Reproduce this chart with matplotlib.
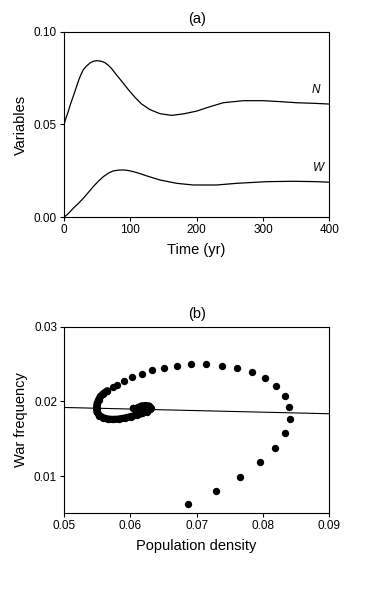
import matplotlib
matplotlib.use("Agg")
import matplotlib.pyplot as plt

plt.rcParams['font.family'] = ['Liberation Sans', 'DejaVu Sans']

# (a) time series
time_n = [0, 3, 6.5, 10, 14, 18, 21.6, 25, 29.1, 34, 39.2, 44, 49.2, 56.8, 62, 66.8, 72,
          76.9, 86.9, 96.9, 107, 117, 129.6, 144.7, 162.3, 179.9, 200, 215, 240, 270,
          300.5, 325.7, 350.8, 376, 400]
pop_n = [0.0500, 0.0535, 0.0571, 0.0612, 0.0652, 0.0695, 0.0733, 0.0765, 0.0795, 0.0815,
         0.0831, 0.0840, 0.0844, 0.0840, 0.0832, 0.0819, 0.0800, 0.0777, 0.0733, 0.0688,
         0.0646, 0.0610, 0.0580, 0.0558, 0.0549, 0.0557, 0.0572, 0.0590, 0.0617, 0.0628,
         0.0628, 0.0623, 0.0617, 0.0614, 0.0610]

time_w = [0, 7, 14, 22, 29, 37, 44, 52, 59.3, 67, 74.4, 82, 89.5, 97, 104.5, 115, 124.6,
          144.7, 169.8, 194.9, 230, 260.3, 305.6, 345.7, 380.9, 400]
war_w = [0.0, 0.0022, 0.0049, 0.0076, 0.0102, 0.0135, 0.0165, 0.0195, 0.0219, 0.0238,
         0.0250, 0.0254, 0.0255, 0.0252, 0.0246, 0.0235, 0.0223, 0.0201, 0.0183, 0.0174,
         0.0174, 0.0183, 0.0192, 0.0194, 0.0192, 0.0189]

# (b) phase plane dots
dots_x = [0.06874, 0.07291, 0.07653, 0.07960, 0.08181, 0.08332, 0.08402, 0.08397, 0.08332,
          0.08201, 0.08030, 0.07839, 0.07608, 0.07382, 0.07146, 0.06920, 0.06709, 0.06508,
          0.06332, 0.06171, 0.06030, 0.05905, 0.05799, 0.05734, 0.05653]
dots_y = [0.00621, 0.00799, 0.00987, 0.01183, 0.01379, 0.01571, 0.01759, 0.01929, 0.02076,
          0.02201, 0.02308, 0.02393, 0.02442, 0.02473, 0.02500, 0.02500, 0.02478, 0.02451,
          0.02415, 0.02371, 0.02321, 0.02277, 0.02223, 0.02196, 0.02142]

# dense part of the spiral (dots overlap into a thick stroke)
spiral_x = [0.05653, 0.05595, 0.05550, 0.05520, 0.05497, 0.05490, 0.05497, 0.05535, 0.05588,
            0.05656, 0.05739, 0.05829, 0.05920, 0.06010, 0.06100, 0.06183, 0.06251, 0.06296,
            0.06304, 0.06281, 0.06229, 0.06168, 0.06116, 0.06070, 0.06045]
spiral_y = [0.02142, 0.02105, 0.02065, 0.02018, 0.01964, 0.01911, 0.01857, 0.01810, 0.01781,
            0.01763, 0.01757, 0.01763, 0.01777, 0.01797, 0.01817, 0.01840, 0.01864, 0.01891,
            0.01917, 0.01938, 0.01944, 0.01938, 0.01917, 0.01897, 0.01907]

line_x = [0.05, 0.09]
line_y = [0.01918, 0.01834]

fig = plt.figure(figsize=(3.81, 6.07), dpi=100)
ax1 = fig.add_axes([0.168, 0.642, 0.6964, 0.3059])
ax2 = fig.add_axes([0.168, 0.1543, 0.6964, 0.3075])

for ax in (ax1, ax2):
    for s in ax.spines.values():
        s.set_linewidth(0.8)
    ax.tick_params(direction='out', length=3, width=0.8, labelsize=8.5, pad=2)

# panel (a)
ax1.plot(time_n, pop_n, color='black', linewidth=0.9)
ax1.plot(time_w, war_w, color='black', linewidth=0.9)
ax1.text(380, 0.0686, 'N', fontsize=8.5, style='italic', ha='center', va='center')
ax1.text(383, 0.0264, 'W', fontsize=8.5, style='italic', ha='center', va='center')
ax1.set_xlim(0, 400)
ax1.set_ylim(0, 0.10)
ax1.set_xticks([0, 100, 200, 300, 400])
ax1.set_yticks([0.0, 0.05, 0.10])
ax1.set_yticklabels(['0.00', '0.05', '0.10'])
ax1.set_xlabel('Time (yr)', fontsize=10.5, labelpad=5)
ax1.set_ylabel('Variables', fontsize=10.5, labelpad=4)
ax1.set_title('(a)', fontsize=10.5, pad=6)

# panel (b)
ax2.plot(line_x, line_y, color='black', linewidth=0.8)
ax2.plot(dots_x, dots_y, 'o', color='black', markersize=5.3, markeredgewidth=0)
ax2.plot(spiral_x, spiral_y, 'o-', color='black', markersize=5.3, markeredgewidth=0,
         linewidth=5.2, solid_capstyle='round', solid_joinstyle='round')
ax2.set_xlim(0.05, 0.09)
ax2.set_ylim(0.005, 0.03)
ax2.set_xticks([0.05, 0.06, 0.07, 0.08, 0.09])
ax2.set_xticklabels(['0.05', '0.06', '0.07', '0.08', '0.09'])
ax2.set_yticks([0.01, 0.02, 0.03])
ax2.set_yticklabels(['0.01', '0.02', '0.03'])
ax2.set_xlabel('Population density', fontsize=10.5, labelpad=5)
ax2.set_ylabel('War frequency', fontsize=10.5, labelpad=4)
ax2.set_title('(b)', fontsize=10.5, pad=6)

fig.savefig('out.png', dpi=100)
